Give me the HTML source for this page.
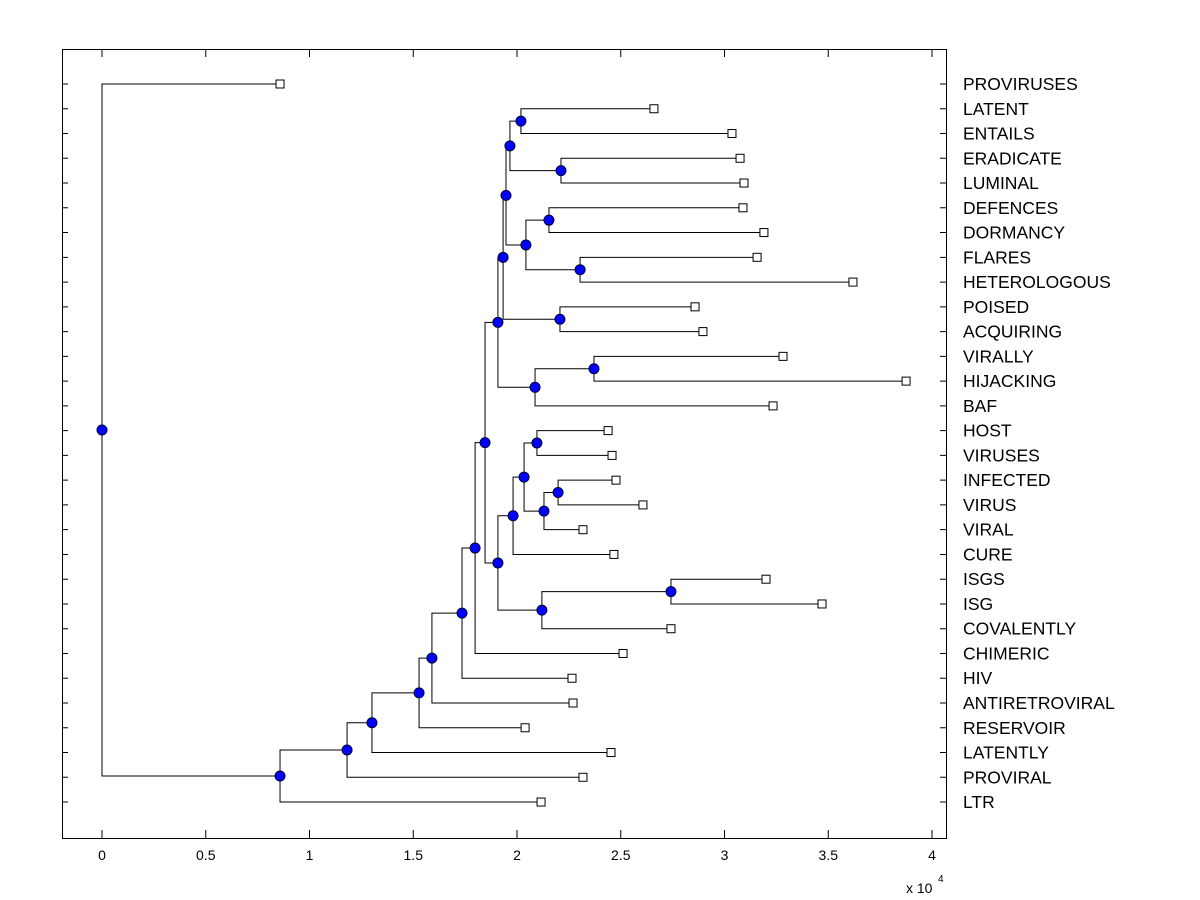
<!DOCTYPE html>
<html><head><meta charset="utf-8"><style>
html,body{margin:0;padding:0;background:#fff;}
svg{display:block;font-family:"Liberation Sans",Arial,sans-serif;}
</style></head><body>
<svg id="chart" width="1200" height="900" viewBox="0 0 1200 900">
<rect x="0" y="0" width="1200" height="900" fill="#fff"/>
<rect x="62.5" y="49.5" width="884" height="789" fill="#fff" stroke="#000" stroke-width="1"/>
<g id="g"></g>
<text x="906" y="893" font-size="14">x 10</text>
<text x="938" y="882" font-size="10">4</text>
</svg>
<script>
const labels = ["PROVIRUSES","LATENT","ENTAILS","ERADICATE","LUMINAL","DEFENCES","DORMANCY","FLARES","HETEROLOGOUS","POISED","ACQUIRING","VIRALLY","HIJACKING","BAF","HOST","VIRUSES","INFECTED","VIRUS","VIRAL","CURE","ISGS","ISG","COVALENTLY","CHIMERIC","HIV","ANTIRETROVIRAL","RESERVOIR","LATENTLY","PROVIRAL","LTR"];
const leafValues = [0.858,2.66,3.036,3.075,3.094,3.089,3.19,3.157,3.619,2.858,2.896,3.282,3.875,3.234,2.439,2.458,2.477,2.607,2.318,2.467,3.2,3.47,2.742,2.511,2.265,2.27,2.039,2.453,2.318,2.116];
// merges: leaves 0-29, internal node k has index 30+k
const mergeLeft  = [1,3,30,5,7,33,32,9,36,11,39,38,14,16,43,42,45,20,47,46,41,50,51,52,53,54,55,56,0];
const mergeRight = [2,4,31,6,8,34,35,10,37,12,13,40,15,17,18,44,19,21,22,48,49,23,24,25,26,27,28,29,57];
const mergeHeights = [2.019,2.212,1.966,2.154,2.304,2.043,1.947,2.207,1.933,2.371,2.087,1.908,2.096,2.198,2.130,2.034,1.981,2.742,2.12,1.908,1.846,1.798,1.735,1.590,1.528,1.301,1.181,0.858,0];
const xTicks = [0,0.5,1,1.5,2,2.5,3,3.5,4];

const NS="http://www.w3.org/2000/svg";
const g=document.getElementById('g');
const X0=102, XS=207.5, Y0=84, YS=24.76;
const xs=v=>X0+v*XS, ys=i=>Y0+i*YS;
function mk(t,a){const e=document.createElementNS(NS,t);for(const k in a)e.setAttribute(k,a[k]);g.appendChild(e);return e;}
const nx=[],ny=[];
leafValues.forEach((v,i)=>{nx.push(xs(v));ny.push(ys(i));});
for(let k=0;k<mergeLeft.length;k++){nx.push(xs(mergeHeights[k]));ny.push((ny[mergeLeft[k]]+ny[mergeRight[k]])/2);}
for(let k=0;k<mergeLeft.length;k++){
  const a=mergeLeft[k], b=mergeRight[k], x=xs(mergeHeights[k]);
  const l=mk('path',{d:`M${nx[a]},${ny[a]}H${x}V${ny[b]}H${nx[b]}`,fill:'none',stroke:'#000','stroke-width':1});
  
  
}
leafValues.forEach((v,i)=>{
  const r=mk('rect',{x:nx[i]-4,y:ny[i]-4,width:8,height:8,fill:'#fff',stroke:'#000','stroke-width':1});
  
  
  const t=mk('text',{x:963,y:ny[i]+6,'font-size':17.5});
  t.textContent=labels[i];
  
  
  const tk=mk('path',{d:`M62,${ny[i]}h6M946,${ny[i]}h-6`,stroke:'#000'});
  
  
});
for(let k=0;k<mergeLeft.length;k++){
  const c=mk('circle',{cx:nx[30+k],cy:ny[30+k],r:5,fill:'#0000ff',stroke:'#000033','stroke-width':1});
  
  
}
xTicks.forEach(v=>{
  const x=xs(v);
  const tk=mk('path',{d:`M${x},838v-8M${x},49v8`,stroke:'#000'});
  
  
  const t=mk('text',{x:x,y:860,'font-size':14,'text-anchor':'middle'});
  t.textContent=String(v);
  
  
});
</script>
</body></html>
